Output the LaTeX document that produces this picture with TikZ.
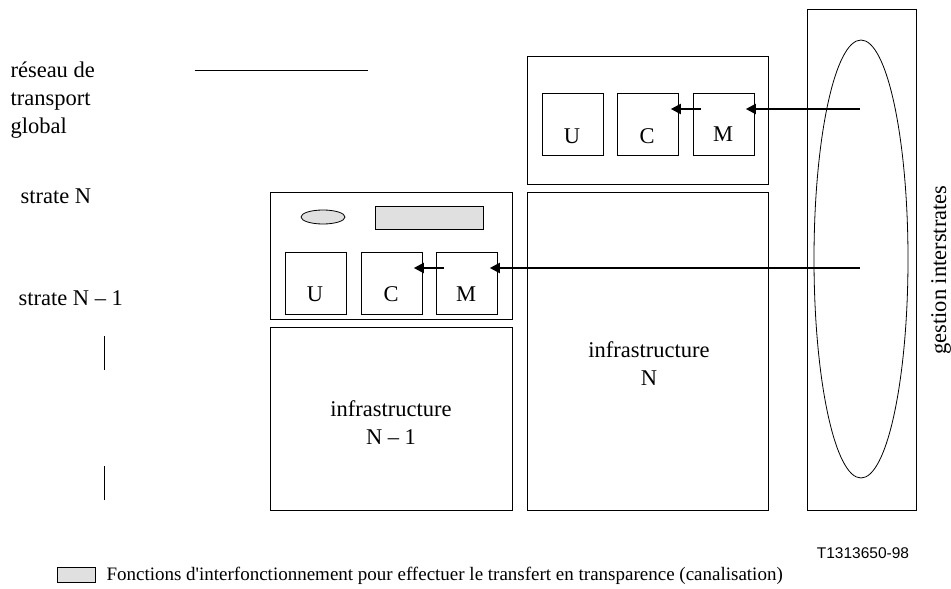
\documentclass[tikz,border=0pt]{standalone}
\usepackage{fontspec}
\setmainfont{Liberation Serif}
\newfontfamily\labelsans{Liberation Sans}
\usetikzlibrary{arrows.meta,positioning,shapes.geometric}
\tikzset{
  box/.style={draw,line width=0.8pt,inner sep=0pt,anchor=north west},
  unit/.style={box,minimum width=61pt,minimum height=62pt},
  ctrl/.style={-{Triangle[length=10pt,width=10pt]},line width=2pt},
  txt/.style={font=\fontsize{22.5}{28}\selectfont},
  keyfont/.style={font=\fontsize{19}{24}\selectfont},
  grey/.style={fill=black!12,draw,line width=0.8pt}
}
\begin{document}
\begin{tikzpicture}[x=1pt,y=-1pt]
  \useasboundingbox (0,0) rectangle (951,589);
  % left labels
  \node[txt,anchor=west,align=left] (glob) at (7,100) {réseau de\\transport\\global};
  \coordinate (l1) at (195,70); \coordinate (l2) at (368,70);
  \draw[line width=0.8pt] (l1) -- (l2);
  \node[txt,anchor=west] (sN) at (17,196) {strate N};
  \node[txt,anchor=west] (sN1) at (15,298) {strate N -- 1};
  \coordinate (v1) at (104,336); \coordinate (v2) at (104,370);
  \coordinate (v3) at (104,466); \coordinate (v4) at (104,500);
  \draw[line width=0.8pt] (v1) -- (v2) (v3) -- (v4);
  % strate N
  \node[box,minimum width=241pt,minimum height=128pt] (topN) at (527,56) {};
  \node[unit] (uN) at (542,93) {};
  \node[unit] (cN) at (617,93) {};
  \node[unit] (mN) at (693,93) {};
  \node[txt] at (572,136) {U};
  \node[txt] at (647,136) {C};
  \node[txt] at (723,134) {M};
  \node[box,minimum width=241pt,minimum height=318pt] (infN) at (527,192) {};
  \node[txt,align=center] at (649,364) {infrastructure\\N};
  % strate N-1
  \node[box,minimum width=242pt,minimum height=127pt] (topN1) at (270,192) {};
  \node[grey,ellipse,minimum width=44pt,minimum height=14pt,inner sep=0pt] (ov) at (323,217) {};
  \node[grey,box,minimum width=108pt,minimum height=23pt] (pipe) at (375,206) {};
  \node[unit] (uN1) at (285,252) {};
  \node[unit] (cN1) at (361,252) {};
  \node[unit] (mN1) at (436,252) {};
  \node[txt] at (315,294) {U};
  \node[txt] at (391,294) {C};
  \node[txt] at (466,294) {M};
  \node[box,minimum width=242pt,minimum height=183pt] (infN1) at (270,327) {};
  \node[txt,align=center] at (391,423) {infrastructure\\N -- 1};
  % gestion interstrates
  \node[box,minimum width=109pt,minimum height=501pt] (gest) at (807,9) {};
  \node[draw,ellipse,line width=0.8pt,minimum width=94pt,minimum height=438pt,inner sep=0pt] (ell) at (861,259) {};
  \node[txt,rotate=90] (gtxt) at (941,270) {gestion interstrates};
  \coordinate (g1) at (860,109); \coordinate (g2) at (860,268);
  \coordinate (a1) at (701,109); \coordinate (a2) at (444,268);
  \draw[ctrl] (g1) -- ([xshift=-9pt]mN.east |- g1);
  \draw[ctrl] (a1) -- ([xshift=-8pt]cN.east |- a1);
  \draw[ctrl] (g2) -- ([xshift=-8pt]mN1.east |- g2);
  \draw[ctrl] (a2) -- ([xshift=-9pt]cN1.east |- a2);
  \node[font=\labelsans\fontsize{15.5}{17}\selectfont] (ref) at (863,553) {T1313650-98};
  % legend
  \node[grey,box,minimum width=38pt,minimum height=15pt] (key) at (57,567) {};
  \node[keyfont,anchor=west] (keytxt) at (103,576) {Fonctions d\textquotesingle interfonctionnement pour effectuer le transfert en transparence (canalisation)};
\end{tikzpicture}
\end{document}
